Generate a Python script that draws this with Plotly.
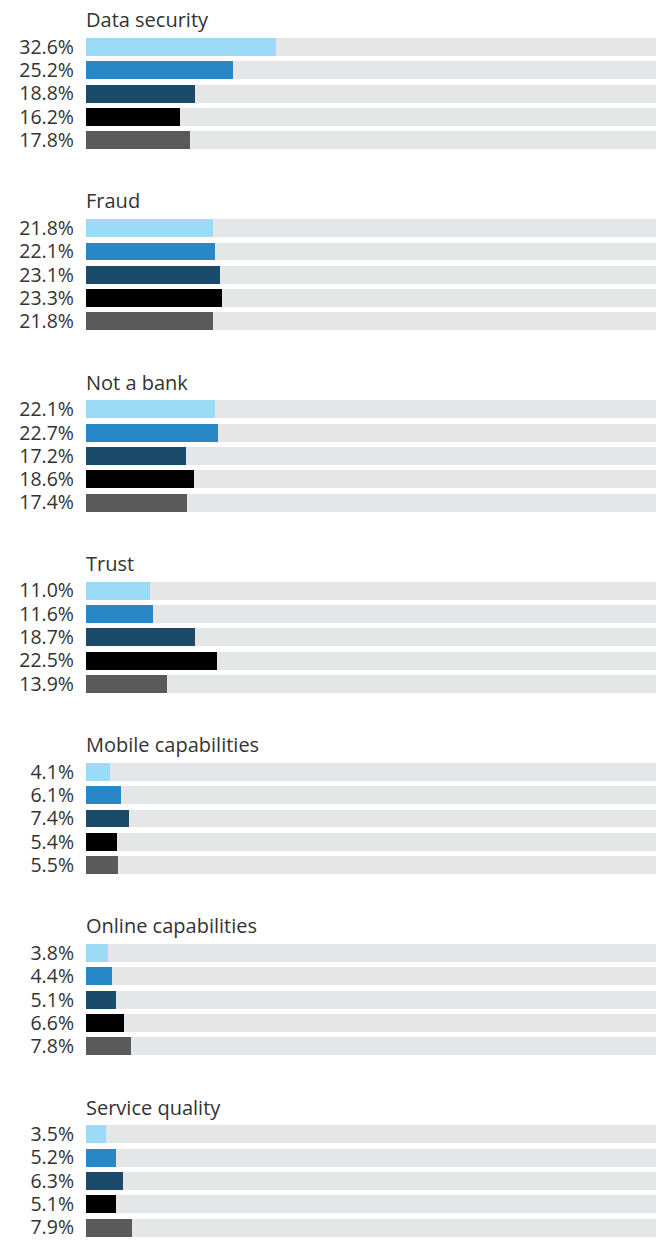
import plotly.graph_objects as go

# Survey concerns, five respondent segments per concern (percent)
categories = ["Data security", "Fraud", "Not a bank", "Trust",
              "Mobile capabilities", "Online capabilities", "Service quality"]
segment_a = [32.6, 21.8, 22.1, 11.0, 4.1, 3.8, 3.5]
segment_b = [25.2, 22.1, 22.7, 11.6, 6.1, 4.4, 5.2]
segment_c = [18.8, 23.1, 17.2, 18.7, 7.4, 5.1, 6.3]
segment_d = [16.2, 23.3, 18.6, 22.5, 5.4, 6.6, 5.1]
segment_e = [17.8, 21.8, 17.4, 13.9, 5.5, 7.8, 7.9]

series = [segment_a, segment_b, segment_c, segment_d, segment_e]
colors = ["#9bdbf8", "#2787c7", "#1a4b6a", "#000000", "#5a5a5a"]
track_color = "#e5e6e8"
text_color = "#333333"
FONT = "Open Sans"

GROUP_STEP = 7.777   # rows per concern block (title + 5 bars + spacing)
BAR_W = 0.77

fig = go.Figure()

tick_vals, tick_text = [], []
for g, cat in enumerate(categories):
    ys = [g * GROUP_STEP + i for i in range(len(series))]
    vals = [s[g] for s in series]
    # grey track behind every bar
    fig.add_trace(go.Bar(
        x=[100] * len(ys), y=ys, orientation="h", width=BAR_W,
        marker=dict(color=track_color, line=dict(width=0)),
        hoverinfo="skip", showlegend=False))
    fig.add_trace(go.Bar(
        x=vals, y=ys, orientation="h", width=BAR_W,
        marker=dict(color=colors, line=dict(width=0)),
        hovertemplate="%{x:.1f}%<extra>" + cat + "</extra>", showlegend=False))
    tick_vals += ys
    tick_text += [f"{v:.1f}%" for v in vals]
    fig.add_annotation(
        x=0, y=g * GROUP_STEP - 1.17, xref="x", yref="y",
        text=cat, showarrow=False, xanchor="left", yanchor="middle",
        xshift=-2,
        font=dict(family=FONT, size=20, color=text_color, weight=400))

fig.update_layout(
    width=656, height=1241,
    margin=dict(l=0, r=0, t=0, b=0),
    paper_bgcolor="white", plot_bgcolor="white",
    barmode="overlay", bargap=0,
    font=dict(family=FONT, size=19.5, color=text_color),
    xaxis=dict(domain=[86 / 656, 1.0], range=[0, 98], visible=False,
               fixedrange=True),
    yaxis=dict(range=[51.24, -2.017], tickmode="array", tickvals=tick_vals,
               ticktext=tick_text, showgrid=False, zeroline=False,
               showline=False, ticks="", ticklabelstandoff=11,
               tickfont=dict(family=FONT, size=19.5, color=text_color,
                             weight=400),
               automargin=False, fixedrange=True),
)

fig.write_html("out.html")
